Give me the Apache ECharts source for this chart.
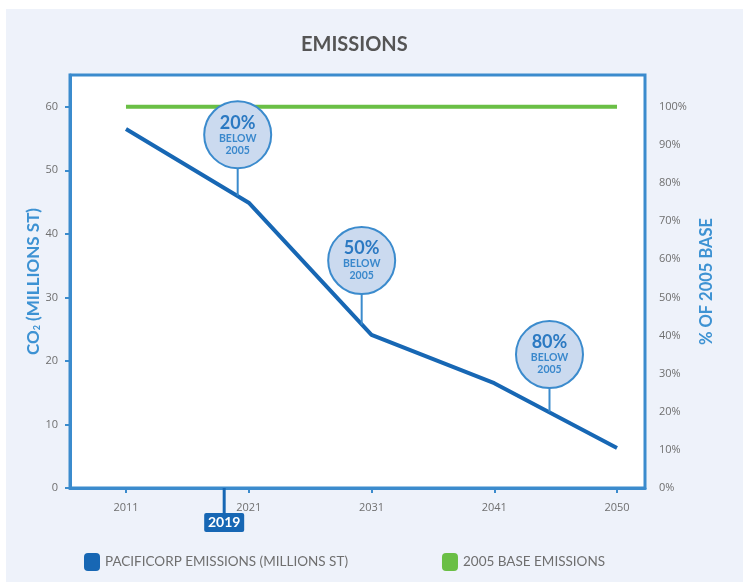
<!DOCTYPE html>
<html>
<head>
<meta charset="utf-8">
<script src="https://cdn.jsdelivr.net/npm/echarts@6/dist/echarts.min.js"></script>
<style>
html,body{margin:0;padding:0;background:#ffffff;}
#chart{position:absolute;left:6px;top:9px;width:737px;height:573px;}
</style>
</head>
<body>
<div id="chart"></div>
<script>
// ---- data ----
const categories = ['2011', '2021', '2031', '2041', '2050'];
const categoryPos = [0, 1, 2, 3, 4];
const emissions = [56.5, 44.9, 24.1, 16.5, 6.3];
const baseEmissions = [60, 60, 60, 60, 60];
const leftTicks = [0, 10, 20, 30, 40, 50, 60];
const rightTicks = [0, 10, 20, 30, 40, 50, 60, 70, 80, 90, 100];
const calloutPct = ['20%', '50%', '80%'];
const calloutX = [0.91, 1.92, 3.45];
const calloutY = [55.6, 35.8, 21.0];
const calloutStemEnd = [46.0, 25.7, 12.0];
const markerYear = '2019';
const markerPos = 0.8;

const BLUE = '#1767b4';
const FRAME = '#3b8bcd';
const GREEN = '#6abf45';
const GRAY = '#6f6f6f';
const FONT = 'Lato, "Open Sans", sans-serif';
const TICKFONT = '"Open Sans", Lato, sans-serif';

const chart = echarts.init(document.getElementById('chart'));
const yMax = 65;

const option = {
  animation: false,
  backgroundColor: '#eef2fa',
  textStyle: { fontFamily: FONT },
  title: {
    text: 'EMISSIONS',
    left: 290, top: 21,
    textStyle: { fontSize: 20, fontWeight: 'bold', color: '#555', fontFamily: FONT }
  },
  legend: {
    data: ['PACIFICORP EMISSIONS (MILLIONS ST)', '2005 BASE EMISSIONS'],
    left: 73, top: 539,
    itemWidth: 16, itemHeight: 18, itemGap: 94,
    icon: 'roundRect',
    textStyle: { fontSize: 13.5, color: GRAY, fontFamily: FONT }
  },
  grid: {
    left: 64, right: 98, top: 66, bottom: 94,
    show: true, backgroundColor: '#ffffff', borderColor: FRAME, borderWidth: 3
  },
  xAxis: {
    type: 'value', min: -0.456, max: 4.228,
    splitLine: { show: false },
    axisLine: { show: true, onZero: false, lineStyle: { color: FRAME, width: 3 } },
    axisTick: { show: true, customValues: categoryPos, length: 5, lineStyle: { color: FRAME, width: 2 } },
    axisLabel: {
      customValues: categoryPos, margin: 14, fontSize: 11, color: GRAY, fontFamily: TICKFONT,
      formatter: v => categories[Math.round(v)]
    }
  },
  yAxis: [{
    type: 'value', min: 0, max: yMax, position: 'left',
    name: 'CO{sub|2} (MILLIONS ST)', nameLocation: 'middle', nameGap: 28, nameRotate: 90,
    nameMoveOverlap: false,
    nameTextStyle: {
      fontSize: 17, fontWeight: 'bold', color: '#3d92d3', fontFamily: FONT,
      rich: { sub: { fontSize: 9, fontWeight: 'bold', color: '#3d92d3', verticalAlign: 'bottom', padding: [8, 0, 0, 0] } }
    },
    splitLine: { show: false },
    axisLine: { show: true, onZero: false, lineStyle: { color: FRAME, width: 3 } },
    axisTick: { show: true, customValues: leftTicks, length: 5, lineStyle: { color: FRAME, width: 2 } },
    axisLabel: { customValues: leftTicks, margin: 12, fontSize: 11, color: GRAY, fontFamily: TICKFONT }
  }, {
    type: 'value', min: 0, max: yMax / 60 * 100, position: 'right',
    name: '% OF 2005 BASE', nameLocation: 'middle', nameGap: 53, nameRotate: 90,
    nameTextStyle: { fontSize: 16.5, fontWeight: 'bold', color: '#3d92d3', fontFamily: FONT },
    splitLine: { show: false },
    axisLine: { show: false },
    axisTick: { show: false },
    axisLabel: { customValues: rightTicks, margin: 14, fontSize: 11, color: GRAY, fontFamily: TICKFONT, formatter: v => v + '%' }
  }],
  series: [{
    name: '2005 BASE EMISSIONS',
    type: 'line',
    data: categoryPos.map((x, i) => [x, baseEmissions[i]]),
    showSymbol: false, symbol: 'none',
    itemStyle: { color: GREEN },
    lineStyle: { color: GREEN, width: 4 },
    z: 2
  }, {
    name: 'PACIFICORP EMISSIONS (MILLIONS ST)',
    type: 'line',
    data: categoryPos.map((x, i) => [x, emissions[i]]),
    showSymbol: false, symbol: 'none',
    itemStyle: { color: BLUE },
    lineStyle: { color: BLUE, width: 4 },
    z: 3
  }, {
    name: 'stems',
    type: 'custom',
    data: calloutX.map((x, i) => [x, calloutY[i], calloutStemEnd[i]]),
    renderItem: function (params, api) {
      const p1 = api.coord([api.value(0), api.value(1)]);
      const p2 = api.coord([api.value(0), api.value(2)]);
      return { type: 'line', shape: { x1: p1[0], y1: p1[1], x2: p2[0], y2: p2[1] },
        style: { stroke: FRAME, lineWidth: 2 } };
    },
    z: 4, silent: true
  }, {
    name: 'callouts',
    type: 'scatter',
    data: calloutX.map((x, i) => ({ value: [x, calloutY[i]], pct: calloutPct[i] })),
    symbol: 'circle', symbolSize: 67,
    itemStyle: { color: '#cbdaef', borderColor: FRAME, borderWidth: 2, opacity: 1 },
    label: {
      show: true, position: 'inside',
      formatter: p => '{a|' + p.data.pct + '}\n{b|BELOW}\n{b|2005}',
      rich: {
        a: { fontSize: 18, fontWeight: 'bold', color: '#2b79c2', lineHeight: 19, fontFamily: FONT },
        b: { fontSize: 10.5, fontWeight: 'bold', color: '#3a88cc', lineHeight: 12, fontFamily: FONT }
      }
    },
    z: 5, silent: true
  }]
};
chart.setOption(option);

// 2019 marker placed from the x scale
const px = chart.convertToPixel({ gridIndex: 0 }, [markerPos, 0]);
const bx = px[0], by = px[1];
chart.setOption({
  graphic: [{
    type: 'line', shape: { x1: bx, y1: by, x2: bx, y2: by + 26 },
    style: { stroke: BLUE, lineWidth: 3 }, z: 10
  }, {
    type: 'rect', shape: { x: bx - 20, y: by + 25, width: 40, height: 19, r: 2 },
    style: { fill: BLUE }, z: 10
  }, {
    type: 'text', x: bx, y: by + 34.5,
    style: { text: markerYear, fill: '#ffffff', fontSize: 14, fontWeight: 'bold', fontFamily: FONT, align: 'center', verticalAlign: 'middle' },
    z: 11
  }]
});
</script>
</body>
</html>
